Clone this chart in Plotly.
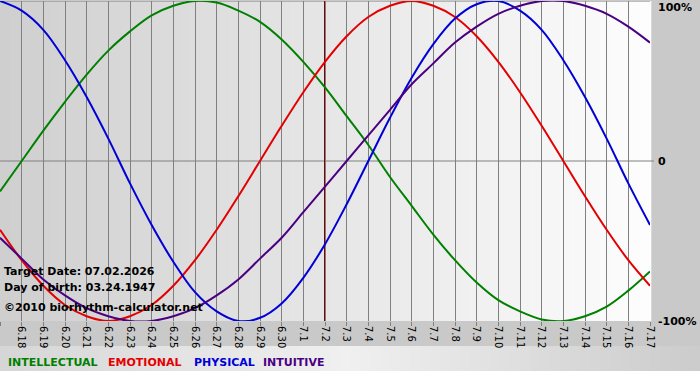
import plotly.graph_objects as go

# ---------------- data ----------------
dates = ["6.17", "6.18", "6.19", "6.20", "6.21", "6.22", "6.23", "6.24", "6.25",
         "6.26", "6.27", "6.28", "6.29", "6.30", "7.1", "7.2", "7.3", "7.4", "7.5",
         "7.6", "7.7", "7.8", "7.9", "7.10", "7.11", "7.12", "7.13", "7.14", "7.15",
         "7.16", "7.17"]

intellectual = [-19, 0, 19, 37, 54, 69, 81, 91, 97, 100, 99, 94, 87, 76, 62, 46,
                28, 10, -10, -28, -46, -62, -76, -87, -94, -99, -100, -97, -91, -81, -69]
emotional = [-43, -62, -78, -90, -97, -100, -97, -90, -78, -62, -43, -22, 0, 22, 43, 62,
             78, 90, 97, 100, 97, 90, 78, 62, 43, 22, 0, -22, -43, -62, -78]
physical = [100, 94, 82, 63, 40, 14, -14, -40, -63, -82, -94, -100, -98, -89, -73, -52,
            -27, 0, 27, 52, 73, 89, 98, 100, 94, 82, 63, 40, 14, -14, -40]
intuitive = [-48, -61, -74, -84, -92, -97, -100, -100, -97, -92, -84, -74, -61, -48, -32, -16,
             0, 16, 32, 48, 61, 74, 84, 92, 97, 100, 100, 97, 92, 84, 74]

series_names = ["INTELLECTUAL", "EMOTIONAL", "PHYSICAL", "INTUITIVE"]
series_colors = ["#008000", "#e40000", "#0000d8", "#4b0082"]

target_date = "7.2"
y_tick_vals = [100, 0, -100]
y_tick_text = ["100%", "0", "-100%"]
info_lines = ["Target Date: 07.02.2026", "Day of birth: 03.24.1947",
              "\u00a92010 biorhythm-calculator.net"]

# ---------------- layout geometry ----------------
W, H = 700, 380
ML, MR, MT, MB = 0, 50, 1, 59
PW, PH = W - ML - MR, H - MT - MB


def px_x(px):
    return (px - ML) / PW


def px_y(py):
    return (H - MB - py) / PH


x_idx = list(range(len(dates)))
fig = go.Figure()

for name, vals, col in zip(series_names, [intellectual, emotional, physical, intuitive],
                           series_colors):
    fig.add_trace(go.Scatter(x=x_idx, y=vals, mode="lines", name=name,
                             line=dict(color=col, width=2, shape="spline", smoothing=1.0),
                             hoverinfo="skip"))

shapes = []
# plot-area gradient (grey on the left to white on the right)
N = 65
for k in range(N):
    v = int(round(207 + (253 - 207) * (k + 0.5) / N))
    shapes.append(dict(type="rect", xref="paper", yref="paper",
                       x0=k / N, x1=(k + 1) / N + 0.002, y0=0, y1=1,
                       fillcolor=f"rgb({v},{v},{v})", line=dict(width=0), layer="below"))
# legend strip gradient
M = 70
for k in range(M):
    t = (k + 0.5) / M
    if t < 0.5:
        v = 214 + (240 - 214) * (t / 0.5)
    else:
        v = 240 - (240 - 203) * ((t - 0.5) / 0.5)
    v = int(round(v))
    shapes.append(dict(type="rect", xref="paper", yref="paper",
                       x0=px_x(k * W / M), x1=px_x((k + 1) * W / M) + 0.002,
                       y0=px_y(371), y1=px_y(346),
                       fillcolor=f"rgb({v},{v},{v})", line=dict(width=0), layer="below"))
# white bottom row
shapes.append(dict(type="rect", xref="paper", yref="paper", x0=px_x(0), x1=px_x(W),
                   y0=px_y(381), y1=px_y(371), fillcolor="white", line=dict(width=0),
                   layer="below"))
# horizontal reference lines (0 and top)
shapes.append(dict(type="line", xref="paper", yref="y", x0=0, x1=px_x(654), y0=0, y1=0,
                   line=dict(color="#808080", width=1), layer="between"))
shapes.append(dict(type="line", xref="paper", yref="y", x0=0, x1=1, y0=100, y1=100,
                   line=dict(color="#808080", width=1), layer="between"))
# target date line
ti = dates.index(target_date)
shapes.append(dict(type="line", xref="x", yref="paper", x0=ti, x1=ti, y0=0, y1=1,
                   line=dict(color="#800000", width=2), layer="between"))

annotations = []
# y tick labels (right side)
for val, txt in zip(y_tick_vals, y_tick_text):
    annotations.append(dict(xref="paper", yref="y", x=px_x(656), y=val, text=f"<b>{txt}</b>",
                            xanchor="left", yanchor="middle", showarrow=False,
                            yshift=-6 if val == 100 else 0,
                            font=dict(family="DejaVu Sans", size=11, color="black")))
# info text
for txt, py in zip(info_lines, [271, 287, 307]):
    annotations.append(dict(xref="paper", yref="paper", x=px_x(2), y=px_y(py),
                            text=f"<b>{txt}</b>", xanchor="left", yanchor="middle",
                            showarrow=False,
                            font=dict(family="DejaVu Sans", size=11, color="black")))
# colour legend
for name, col, px in zip(series_names, series_colors, [6, 106, 192, 261]):
    annotations.append(dict(xref="paper", yref="paper", x=px_x(px), y=px_y(362),
                            text=f"<b>{name}</b>", xanchor="left", yanchor="middle",
                            showarrow=False,
                            font=dict(family="DejaVu Sans", size=11, color=col)))

fig.update_layout(
    width=W, height=H,
    margin=dict(l=ML, r=MR, t=MT, b=MB, pad=0),
    paper_bgcolor="#c9c9c9",
    plot_bgcolor="rgba(0,0,0,0)",
    showlegend=False,
    shapes=shapes,
    annotations=annotations,
    xaxis=dict(range=[0, len(dates) - 1], tickmode="array", tickvals=x_idx, ticktext=dates,
               tickangle=90, showgrid=True, gridcolor="#808080", gridwidth=1,
               zeroline=False, showline=False, ticks="outside", ticklen=4,
               tickcolor="#808080", ticklabelstandoff=-2,
               tickfont=dict(family="DejaVu Sans", size=10, color="black"), fixedrange=True),
    yaxis=dict(range=[-100, 100], showgrid=False, zeroline=False, showline=False,
               showticklabels=False, ticks="", fixedrange=True),
)

fig.write_html("out.html")
